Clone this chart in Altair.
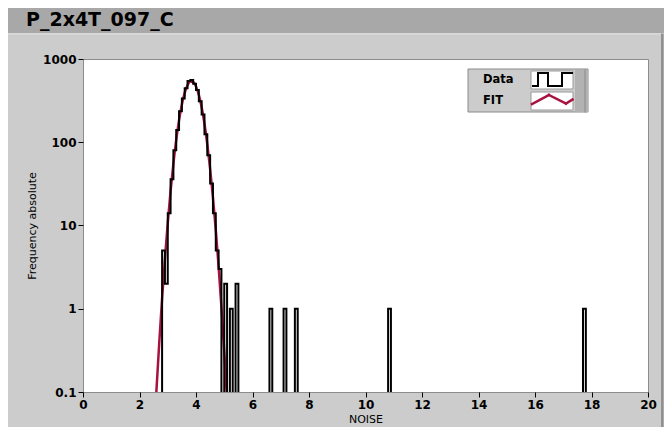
import altair as alt
import pandas as pd

# ---- data ----
bin_start = [2.8, 2.9, 3.0, 3.1, 3.2, 3.3, 3.4, 3.5, 3.6, 3.7, 3.8, 3.9, 4.0, 4.1,
             4.2, 4.3, 4.4, 4.5, 4.6, 4.7, 4.8, 5.0, 5.2, 5.4, 6.6, 7.1, 7.5, 10.8, 17.7]
bin_count = [5, 2, 14, 36, 80, 140, 235, 335, 445, 545, 560, 505, 425, 310,
             215, 125, 70, 32, 14, 5, 3, 2, 1, 2, 1, 1, 1, 1, 1]

fit_x = [2.5, 2.6, 2.7, 2.8, 2.9, 3.0, 3.1, 3.2, 3.3, 3.4, 3.5, 3.6, 3.7, 3.8,
         3.9, 4.0, 4.1, 4.2, 4.3, 4.4, 4.5, 4.6, 4.7, 4.8, 4.9, 5.0, 5.1, 5.2]
fit_y = [0.025, 0.105, 0.395, 1.33, 3.98, 10.7, 25.8, 55.5, 107, 184, 284, 392, 484, 535,
         529, 468, 371, 263, 167, 94.6, 48, 21.8, 8.87, 3.23, 1.05, 0.31, 0.08, 0.019]

x_ticks = [0, 2, 4, 6, 8, 10, 12, 14, 16, 18, 20]
y_ticks = [0.1, 1, 10, 100, 1000]

title_text = "P_2x4T_097_C"
legend_labels = ["Data", "FIT"]

FLOOR = 0.01  # empty bins are drawn below the visible range (clipped)
counts = {int(round(s * 10)): c for s, c in zip(bin_start, bin_count)}
step_rows = [{"x": i / 10, "y": counts.get(i, FLOOR)} for i in range(25, 181)]
step_df = pd.DataFrame(step_rows)
fit_df = pd.DataFrame({"x": fit_x, "y": fit_y})

W, H = 565, 333
OX, OY = 83, 59  # page position of plot origin
FIT_COLOR = "#A8123F"
one = pd.DataFrame({"a": [0]})


def px(v):
    return v - OX


def py(v):
    return v - OY


def rect(x0, y0, x1, y1, fill, stroke=None, sw=1):
    kw = dict(fill=fill)
    if stroke:
        kw.update(stroke=stroke, strokeWidth=sw)
    return alt.Chart(one).mark_rect(**kw).encode(
        x=alt.value(px(x0)), x2=alt.value(px(x1)),
        y=alt.value(py(y0)), y2=alt.value(py(y1)))


def seg(x0, y0, x1, y1, color, sw):
    return alt.Chart(one).mark_rule(color=color, strokeWidth=sw, strokeCap="square").encode(
        x=alt.value(px(x0)), x2=alt.value(px(x1)),
        y=alt.value(py(y0)), y2=alt.value(py(y1)))


def text(x, y, s, size, weight="normal", align="left"):
    return alt.Chart(one).mark_text(
        align=align, baseline="middle", fontSize=size, fontWeight=weight,
        font="DejaVu Sans", color="black").encode(
        x=alt.value(px(x)), y=alt.value(py(y)), text=alt.value(s))


layers = []
# window decorations
layers.append(rect(0, 0, 672, 33, "#A8A8A8"))
layers.append(seg(0, 34, 660, 34, "#E4E4E4", 1))
layers.append(rect(661, 34, 672, 435, "#ABABAB"))
layers.append(seg(662, 34, 662, 435, "#777777", 1))
layers.append(seg(0, 430, 660, 430, "#888888", 1))
layers.append(text(26, 20, title_text, 19, "bold"))

x_enc = alt.X("x:Q", scale=alt.Scale(domain=[0, 20], nice=False, zero=False),
              axis=alt.Axis(values=x_ticks, format="d", title="NOISE"))
y_enc = alt.Y("y:Q", scale=alt.Scale(type="log", domain=[0.1, 1000], nice=False),
              axis=alt.Axis(values=y_ticks, format="~g", title="Frequency absolute"))

fit = alt.Chart(fit_df).mark_line(color=FIT_COLOR, strokeWidth=2.5, clip=True,
                                  interpolate="monotone").encode(x=x_enc, y=y_enc)
data = alt.Chart(step_df).mark_line(color="black", strokeWidth=2, clip=True,
                                    interpolate="step-after").encode(x=x_enc, y=y_enc)
layers += [fit, data]

# legend box
layers.append(rect(468, 69, 588, 112, "#CCCCCC", "#8A8A8A"))
layers.append(rect(575, 70, 588, 112, "#B2B2B2"))
layers.append(seg(585, 70, 585, 112, "#8A8A8A", 1))
layers.append(rect(531, 71, 573, 89, "white", "#9A9A9A"))
layers.append(rect(531, 92, 573, 110, "white", "#9A9A9A"))
layers.append(text(483, 80, legend_labels[0], 11.5, "bold"))
layers.append(text(483, 101, legend_labels[1], 11.5, "bold"))
for (a, b, c, d) in [(533, 86, 538, 86), (538, 86, 538, 73), (538, 73, 548, 73),
                     (548, 73, 548, 86), (548, 86, 562, 86), (562, 86, 562, 73),
                     (562, 73, 572, 73)]:
    layers.append(seg(a, b, c, d, "black", 2))
for (a, b, c, d) in [(532, 104, 549, 95), (549, 95, 566, 103.5), (566, 103.5, 572.5, 99.5)]:
    layers.append(seg(a, b, c, d, FIT_COLOR, 2.5))

chart = alt.layer(*layers).properties(
    width=W, height=H,
    padding={"left": 75, "top": 51, "right": 16, "bottom": 35},
    autosize=alt.AutoSizeParams(type="none"),
    background="#CCCCCC",
).configure_view(
    stroke="#8C8C8C", strokeWidth=1, fill="white"
).configure_axis(
    grid=False, domain=False, ticks=True, tickColor="black", tickSize=5, tickWidth=1,
    labelFont="DejaVu Sans", labelFontSize=12, labelFontWeight="bold", labelColor="black",
    labelPadding=2, titleFont="DejaVu Sans", titleFontSize=11, titleFontWeight="normal",
    titleColor="black",
).configure_axisY(
    titlePadding=5
).configure_axisX(
    titlePadding=3, labelFlush=False
)

chart.save("out.html", embed_options={"renderer": "svg", "actions": False})
